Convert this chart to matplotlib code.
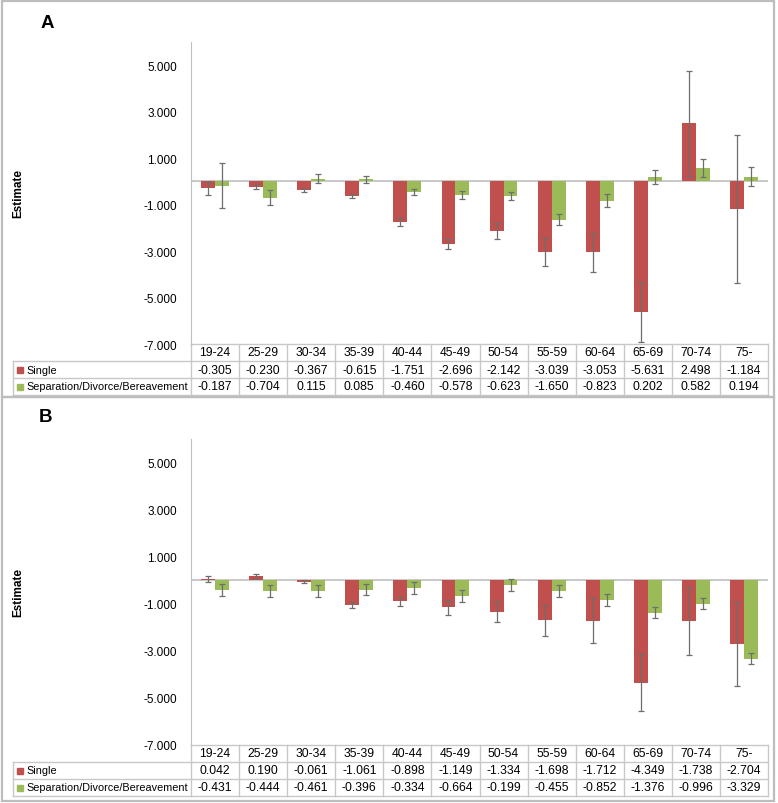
import numpy as np
import matplotlib
matplotlib.use("Agg")
import matplotlib.pyplot as plt
from matplotlib.patches import Rectangle

plt.rcParams["font.family"] = ["Liberation Sans", "DejaVu Sans"]

age_groups = ["19-24", "25-29", "30-34", "35-39", "40-44", "45-49",
              "50-54", "55-59", "60-64", "65-69", "70-74", "75-"]
series_names = ["Single", "Separation/Divorce/Bereavement"]

single_a = [-0.305, -0.230, -0.367, -0.615, -1.751, -2.696,
            -2.142, -3.039, -3.053, -5.631, 2.498, -1.184]
sep_a = [-0.187, -0.704, 0.115, 0.085, -0.460, -0.578,
         -0.623, -1.650, -0.823, 0.202, 0.582, 0.194]
single_a_err = [0.30, 0.10, 0.08, 0.09, 0.16, 0.22,
                0.33, 0.60, 0.85, 1.30, 2.27, 3.20]
sep_a_err = [0.98, 0.33, 0.20, 0.15, 0.14, 0.18,
             0.16, 0.23, 0.29, 0.30, 0.38, 0.41]

single_b = [0.042, 0.190, -0.061, -1.061, -0.898, -1.149,
            -1.334, -1.698, -1.712, -4.349, -1.738, -2.704]
sep_b = [-0.431, -0.444, -0.461, -0.396, -0.334, -0.664,
         -0.199, -0.455, -0.852, -1.376, -0.996, -3.329]
single_b_err = [0.13, 0.08, 0.07, 0.12, 0.20, 0.31,
                0.45, 0.66, 0.95, 1.22, 1.43, 1.77]
sep_b_err = [0.25, 0.26, 0.26, 0.25, 0.25, 0.24,
             0.25, 0.25, 0.25, 0.24, 0.24, 0.24]

yticks = [5, 3, 1, -1, -3, -5, -7]

RED = "#C0504D"
GREEN = "#9BBB59"
GRID = "#C8C8C8"
W, H = 778, 804


def fig_rect(left, top, right, bottom):
    return [left / W, 1 - bottom / H, (right - left) / W, (bottom - top) / H]


def draw_panel(fig, rect_px, single, sep, single_err, sep_err, letter, letter_xy):
    left, top, right, bottom = rect_px
    ax = fig.add_axes(fig_rect(left, top, right, bottom))
    x = np.arange(len(age_groups))
    bw = 0.29
    ax.bar(x - bw / 2, single, bw, color=RED, zorder=2)
    ax.bar(x + bw / 2, sep, bw, color=GREEN, zorder=2)
    ax.errorbar(x - bw / 2, single, yerr=single_err, fmt="none",
                ecolor="#6E6E6E", elinewidth=0.9, capsize=2, capthick=0.9, zorder=3)
    ax.errorbar(x + bw / 2, sep, yerr=sep_err, fmt="none",
                ecolor="#6E6E6E", elinewidth=0.9, capsize=2, capthick=0.9, zorder=3)
    ax.axhline(0, color="#BFBFBF", lw=1.2, zorder=1)

    ax.set_xlim(-0.5, len(age_groups) - 0.5)
    ax.set_ylim(-7, 6)
    ax.set_yticks(yticks)
    ax.set_yticklabels([f"{v:.3f}" for v in yticks], fontsize=8.5)
    ax.tick_params(axis="y", length=0, pad=10)
    ax.set_xticks([])
    for s in ["top", "right", "bottom"]:
        ax.spines[s].set_visible(False)
    ax.spines["left"].set_color("#BFBFBF")

    # data table under the plot
    trans = ax.get_xaxis_transform()
    ax_h = bottom - top
    row_h = 17.0 / ax_h
    px_per_unit = (right - left) / len(age_groups)
    x_lab = -0.5 - (left - 13) / px_per_unit
    x_end = len(age_groups) - 0.5
    kw = dict(transform=trans, clip_on=False, color=GRID, lw=1)
    ax.plot([-0.5, x_end], [0, 0], **kw)
    for r in range(1, 4):
        ax.plot([x_lab, x_end], [-r * row_h] * 2, **kw)
    ax.plot([x_lab, x_lab], [-row_h, -3 * row_h], **kw)
    for i in range(len(age_groups) + 1):
        ax.plot([i - 0.5, i - 0.5], [0, -3 * row_h], **kw)

    rows = [single, sep]
    for i, g in enumerate(age_groups):
        ax.text(i, -0.5 * row_h, g, transform=trans, ha="center", va="center",
                fontsize=8.7)
        for r, vals in enumerate(rows):
            ax.text(i, -(r + 1.5) * row_h, f"{vals[i]:.3f}", transform=trans,
                    ha="center", va="center", fontsize=8.7)
    x_mark = -0.5 - (left - 20) / px_per_unit
    x_text = -0.5 - (left - 26) / px_per_unit
    for r, (name, col) in enumerate(zip(series_names, [RED, GREEN])):
        ax.plot([x_mark], [-(r + 1.5) * row_h], marker="s", ms=5, color=col,
                transform=trans, clip_on=False, lw=0)
        ax.text(x_text, -(r + 1.5) * row_h, name, transform=trans,
                ha="left", va="center", fontsize=7.8)

    fig.text(18 / W, 1 - (top + bottom) / 2 / H, "Estimate", rotation=90,
             ha="center", va="center", fontsize=8.5, fontweight="bold")
    fig.text(letter_xy[0] / W, 1 - letter_xy[1] / H, letter, ha="center",
             va="center", fontsize=13.5, fontweight="bold")
    return ax


fig = plt.figure(figsize=(W / 100, H / 100), dpi=100)

# panel frames
for top, bottom in [(2, 398), (398, 802)]:
    fig.patches.append(Rectangle((2 / W, 1 - bottom / H), 772 / W, (bottom - top) / H,
                                 transform=fig.transFigure, fill=False,
                                 edgecolor="#BDBDBD", lw=1.6))

draw_panel(fig, (191, 43, 768, 345), single_a, sep_a, single_a_err, sep_a_err,
           "A", (47, 23))
draw_panel(fig, (191, 440, 768, 746), single_b, sep_b, single_b_err, sep_b_err,
           "B", (45, 418))

fig.savefig("out.png", dpi=100)
